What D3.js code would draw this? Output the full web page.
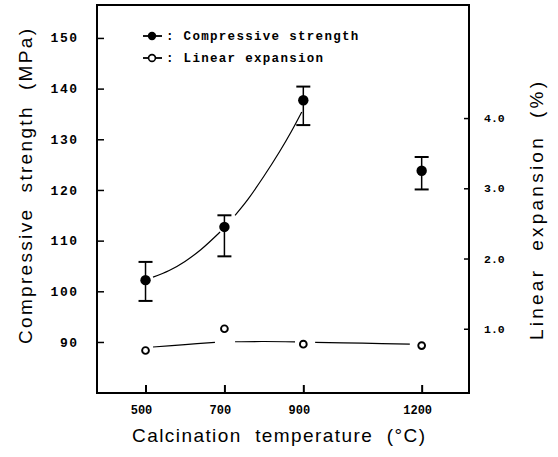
<!DOCTYPE html>
<html><head><meta charset="utf-8">
<script src="https://cdn.jsdelivr.net/npm/d3@7"></script>
<style>body{margin:0;background:#fff}svg{display:block}text{white-space:pre}</style>
</head><body>
<svg id="chart" width="558" height="457"></svg>
<script>
// ---- data ----
const temperatures = [500, 700, 900, 1200];
const strengthMean = [102.2, 112.7, 137.7, 123.8];
const strengthHigh = [105.8, 115.0, 140.4, 126.5];
const strengthLow  = [98.1, 106.9, 132.8, 120.1];
const expansion    = [0.69, 1.0, 0.78, 0.76];
// fitted trend curves, drawn in broken segments
const strengthFitA = [[519,102.8],[560,104.1],[600,105.9],[640,108.2],[689,111.7]];
const strengthFitB = [[727,115.0],[760,118.2],[800,122.7],[840,127.6],[870,131.6],[896,135.4]];
const expansionFitA = [[519,0.74],[600,0.775],[676,0.805]];
const expansionFitB = [[727,0.815],[800,0.818],[879,0.812]];
const expansionFitC = [[930,0.805],[1050,0.795],[1170,0.78]];
const leftTicks  = [90, 100, 110, 120, 130, 140, 150];
const rightTicks = [1.0, 2.0, 3.0, 4.0];
const xTickLabels = ["500", "700", "900", "1200"];
const legendLabels = [": Compressive strength", ": Linear expansion"];
const xTitle = "Calcination  temperature  (\u00B0C)";
const yLeftTitle = "Compressive  strength  (MPa)";
const yRightTitle = "Linear  expansion  (%)";

// ---- layout ----
const L = 97, R = 469, T = 5, B = 393;
const svg = d3.select("#chart");
const x = d3.scaleLinear().domain([377, 1320]).range([L, R]);
const yL = d3.scaleLinear().domain([79.93, 156.5]).range([B, T]);
const yR = d3.scaleLinear().domain([0.085, 5.61]).range([B, T]);

const mono = "'Liberation Mono', 'DejaVu Sans Mono', monospace";
const sans = "'Liberation Sans', Arial, sans-serif";

// frame
svg.append("rect").attr("x", L).attr("y", T).attr("width", R - L).attr("height", B - T)
  .attr("fill", "none").attr("stroke", "#000").attr("stroke-width", 2);

// left axis
const axL = svg.append("g").attr("transform", `translate(${L},0)`)
  .call(d3.axisRight(yL).tickValues(leftTicks).tickSize(7).tickFormat(""));
axL.select(".domain").remove();
axL.selectAll("line").attr("stroke-width", 1.5);
svg.append("g").selectAll("text").data(leftTicks).join("text")
  .attr("x", 78.5).attr("y", d => yL(d)).attr("dy", "0.35em")
  .attr("text-anchor", "end").attr("font-family", mono).attr("font-weight", "bold")
  .attr("font-size", 13).attr("letter-spacing", 1.5).text(d => d);

// right axis
const axR = svg.append("g").attr("transform", `translate(${R},0)`)
  .call(d3.axisLeft(yR).tickValues(rightTicks).tickSize(5).tickFormat(""));
axR.select(".domain").remove();
axR.selectAll("line").attr("stroke-width", 1.5);
svg.append("g").selectAll("text").data(rightTicks).join("text")
  .attr("x", 484).attr("y", d => yR(d)).attr("dy", "0.35em")
  .attr("font-family", mono).attr("font-weight", "bold")
  .attr("font-size", 11.5).text(d => d.toFixed(1));

// bottom axis
const axB = svg.append("g").attr("transform", `translate(0,${B})`)
  .call(d3.axisTop(x).tickValues(temperatures).tickSize(8).tickFormat(""));
axB.select(".domain").remove();
axB.selectAll("line").attr("stroke-width", 2);
svg.append("g").selectAll("text").data(temperatures).join("text")
  .attr("x", (d) => x(d) - 4).attr("y", 414)
  .attr("text-anchor", "middle").attr("font-family", mono).attr("font-weight", "bold")
  .attr("font-size", 12).text((d, i) => xTickLabels[i]);

// titles
svg.append("text").attr("x", 132).attr("y", 442)
  .attr("font-family", sans).attr("font-size", 19)
  .attr("textLength", 293).attr("lengthAdjust", "spacing").text(xTitle);
svg.append("text").attr("transform", "translate(32,344) rotate(-90)")
  .attr("font-family", sans).attr("font-size", 19)
  .attr("textLength", 315).attr("lengthAdjust", "spacing").text(yLeftTitle);
svg.append("text").attr("transform", "translate(543,340) rotate(-90)")
  .attr("font-family", sans).attr("font-size", 19)
  .attr("textLength", 258).attr("lengthAdjust", "spacing").text(yRightTitle);

// fitted curves
const lineL = d3.line().x(d => x(d[0])).y(d => yL(d[1])).curve(d3.curveCatmullRom);
const lineR = d3.line().x(d => x(d[0])).y(d => yR(d[1])).curve(d3.curveCatmullRom);
[strengthFitA, strengthFitB].forEach(seg => svg.append("path").attr("d", lineL(seg))
  .attr("fill", "none").attr("stroke", "#000").attr("stroke-width", 1.2));
[expansionFitA, expansionFitB, expansionFitC].forEach(seg => svg.append("path").attr("d", lineR(seg))
  .attr("fill", "none").attr("stroke", "#000").attr("stroke-width", 1.2));

// error bars
const eb = svg.append("g").attr("stroke", "#000");
temperatures.forEach((t, i) => {
  const cx = x(t);
  eb.append("line").attr("x1", cx).attr("x2", cx).attr("y1", yL(strengthHigh[i])).attr("y2", yL(strengthLow[i])).attr("stroke-width", 1.5);
  eb.append("line").attr("x1", cx - 7).attr("x2", cx + 7).attr("y1", yL(strengthHigh[i])).attr("y2", yL(strengthHigh[i])).attr("stroke-width", 2);
  eb.append("line").attr("x1", cx - 7).attr("x2", cx + 7).attr("y1", yL(strengthLow[i])).attr("y2", yL(strengthLow[i])).attr("stroke-width", 2);
});

// markers
svg.append("g").selectAll("circle").data(temperatures).join("circle")
  .attr("cx", d => x(d)).attr("cy", (d, i) => yL(strengthMean[i])).attr("r", 5.2).attr("fill", "#000");
svg.append("g").selectAll("circle").data(temperatures).join("circle")
  .attr("cx", d => x(d)).attr("cy", (d, i) => yR(expansion[i])).attr("r", 3.4)
  .attr("fill", "#fff").attr("stroke", "#000").attr("stroke-width", 1.9);

// legend
const lg = svg.append("g");
[36, 58].forEach((ly, i) => {
  lg.append("line").attr("x1", 143).attr("x2", 162).attr("y1", ly).attr("y2", ly).attr("stroke", "#000").attr("stroke-width", 1.8);
  if (i === 0) lg.append("circle").attr("cx", 152).attr("cy", ly).attr("r", 4.2).attr("fill", "#000");
  else lg.append("circle").attr("cx", 152).attr("cy", ly).attr("r", 3.4).attr("fill", "#fff").attr("stroke", "#000").attr("stroke-width", 1.6);
  lg.append("text").attr("x", 166).attr("y", ly + 4)
    .attr("font-family", mono).attr("font-weight", "bold").attr("font-size", 12.5)
    .attr("letter-spacing", 1.3).text(legendLabels[i]);
});
</script>
</body></html>
